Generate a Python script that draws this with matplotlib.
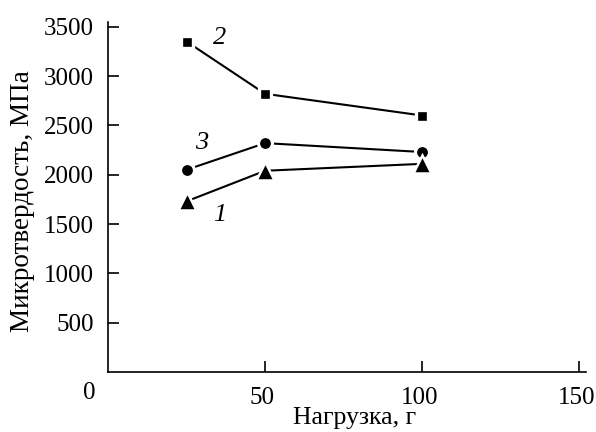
import matplotlib.pyplot as plt
import matplotlib.transforms as mtransforms
import numpy as np

plt.rcParams['font.family'] = ['Liberation Serif', 'DejaVu Serif']

# Нагрузка, г
load = [25, 50, 100]
# Микротвердость, МПа
hv_1 = [1730, 2040, 2110]   # triangles
hv_2 = [3350, 2820, 2600]   # squares
hv_3 = [2050, 2320, 2230]   # circles

fig = plt.figure(figsize=(5.96, 4.32), dpi=100)
ax = fig.add_axes([0.1812, 0.1389, 0.8014, 0.8102])

common = dict(color='black', lw=1.5, mfc='black', mec='white')
ax.plot(load, hv_2, marker='s', ms=9.0, mew=2.4, **common)
ax.plot(load, hv_3, marker='o', ms=10.0, mew=2.2, **common)
ax.plot(load, hv_1, marker='^', ms=13.0, mew=1.8, **common)

ax.text(35.6, 3387, '2', fontsize=19, style='italic', ha='center', va='center')
ax.text(29.7, 2322, '3', fontsize=19, style='italic', ha='center', va='center')
ax.text(35.5, 1590, '1', fontsize=19, style='italic', ha='center', va='center')

ax.set_xlim(0, 152)
ax.set_ylim(0, 3548)
ax.set_xticks([50, 100, 150])
ax.set_yticks([500, 1000, 1500, 2000, 2500, 3000, 3500])
ax.tick_params(direction='in', length=8, width=1.2, labelsize=18, pad=10)
ax.tick_params(axis='x', pad=11)
for s in ['top', 'right']:
    ax.spines[s].set_visible(False)
for s in ['left', 'bottom']:
    ax.spines[s].set_linewidth(1.2)

# x tick labels sit a touch left of their ticks in the original
shift = mtransforms.ScaledTranslation(-3 / 100, 0, fig.dpi_scale_trans)
for lbl in ax.get_xticklabels():
    lbl.set_transform(lbl.get_transform() + shift)

fig.text(89 / 596, 1 - 393 / 432, '0', fontsize=18, ha='center', va='center')
fig.text(23 / 596, 1 - 201 / 432, 'Микротвердость, МПа', fontsize=19.5,
         rotation=90, ha='center', va='center')
fig.text(355 / 596, 1 - 418 / 432, 'Нагрузка, г', fontsize=18.5,
         ha='center', va='center')

fig.savefig('out.png', dpi=100)
